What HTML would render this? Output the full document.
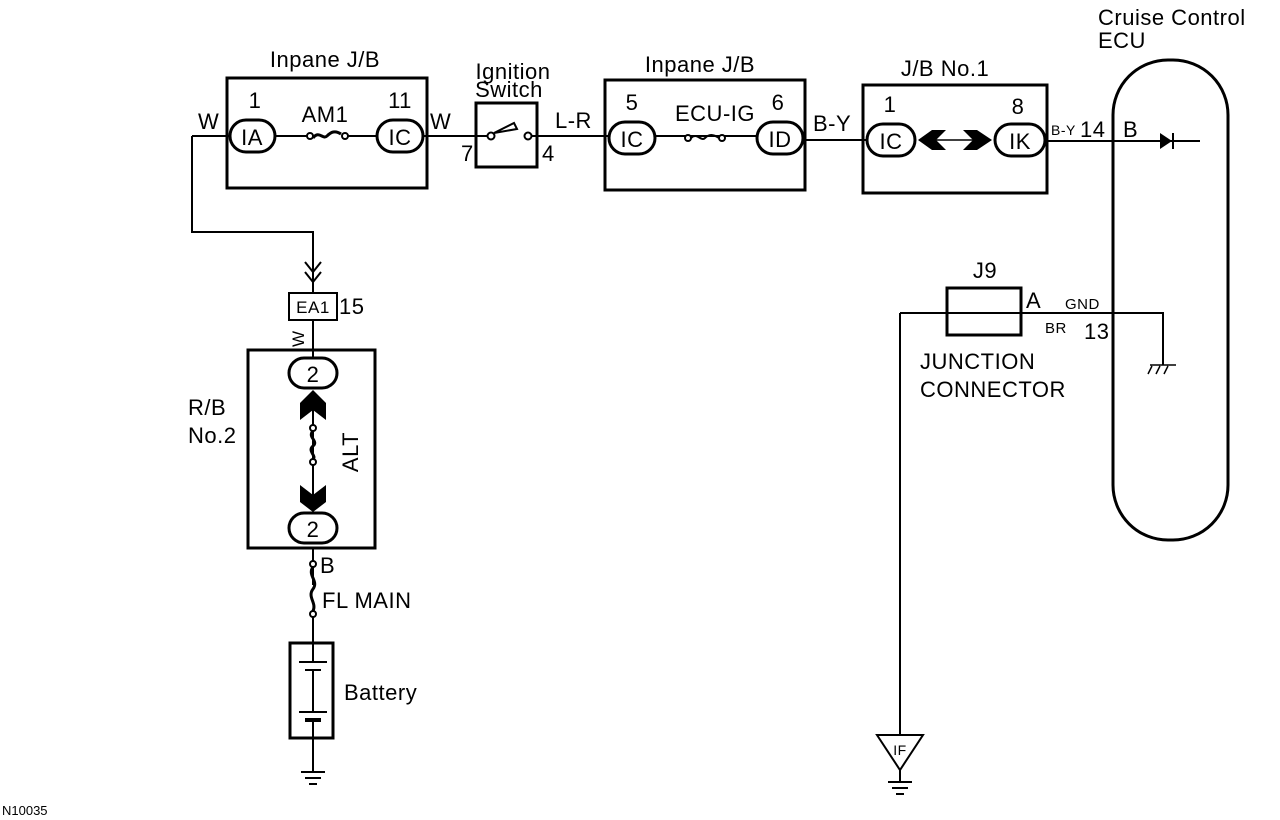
<!DOCTYPE html>
<html><head><style>body{margin:0;background:#fff}svg{display:block}text{font-family:"Liberation Sans",sans-serif;fill:#000}</style></head><body>
<svg width="1280" height="820" viewBox="0 0 1280 820" xmlns="http://www.w3.org/2000/svg" stroke="#000" fill="none" stroke-width="2">
<path d="M192 136H230 M275 136H310 M345 136H377 M423 136H491 M528 136H609 M655 136H757 M803 140H869 M1045 141H1200"/>
<path d="M192 136V232H313V293"/>
<path d="M305 262l8 10 8-10 M305 272l8 10 8-10"/>
<path d="M313 320V358 M313 548V585 M313 610V645 M313 738V772"/>
<path d="M900 313H1163V365 M900 313V735 M900 770V782"/>
<rect x="227" y="78" width="200" height="110" stroke-width="3"/>
<rect x="476" y="103" width="61" height="64" stroke-width="3"/>
<rect x="605" y="80" width="200" height="110" stroke-width="3"/>
<rect x="863" y="85" width="184" height="108" stroke-width="3"/>
<rect x="1113" y="60" width="115" height="480" rx="55" stroke-width="3"/>
<rect x="947" y="288" width="74" height="47" stroke-width="3"/>
<rect x="289" y="293" width="48" height="27" stroke-width="2"/>
<rect x="248" y="350" width="127" height="198" stroke-width="3"/>
<rect x="290" y="643" width="43" height="95" stroke-width="3"/>
<g stroke-width="3" fill="#fff">
<rect x="230" y="120" width="45" height="32" rx="16"/>
<rect x="377" y="120" width="46" height="32" rx="16"/>
<rect x="609" y="122" width="46" height="32" rx="16"/>
<rect x="757" y="122" width="46" height="32" rx="16"/>
<rect x="867" y="124" width="48" height="32" rx="16"/>
<rect x="995" y="124" width="50" height="32" rx="16"/>
<rect x="289" y="358" width="48" height="30" rx="15"/>
<rect x="289" y="513" width="48" height="30" rx="15"/>
</g>
<circle cx="310" cy="136" r="3" fill="#fff"/><circle cx="345" cy="136" r="3" fill="#fff"/>
<path d="M313 138c6-8 10 2 14-2s8-6 14-2" stroke-width="3"/>
<circle cx="688" cy="138" r="3" fill="#fff"/><circle cx="722" cy="138" r="3" fill="#fff"/>
<path d="M691 138c6-6 10 4 14 0s8-4 14 0" stroke-width="2"/>
<circle cx="491" cy="136" r="3.5" fill="#fff"/><circle cx="528" cy="136" r="3.5" fill="#fff"/>
<path d="M494 133l20-10 3 6z" stroke-width="2"/>
<path d="M918 140L932 130H946L936 140L946 150H932Z M963 130H977L992 140L977 150H963L973 140Z" fill="#000" stroke="none"/>
<path d="M936 140H973" stroke-width="1.5"/>
<path d="M1160 133V149L1172 141Z" fill="#000" stroke="none"/><path d="M1173 133V149"/>
<path d="M300 403L313 390L326 403V420L313 410L300 420Z M300 485L313 495L326 485V502L313 512L300 502Z" fill="#000" stroke="none"/>
<path d="M313 410V495"/><circle cx="313" cy="428" r="3" fill="#fff"/><circle cx="313" cy="462" r="3" fill="#fff"/>
<path d="M313 431c-6 6 6 10 0 15s4 10 0 13" stroke-width="3"/>
<circle cx="313" cy="564" r="3" fill="#fff"/><circle cx="313" cy="614" r="3" fill="#fff"/>
<path d="M313 567c-6 8 6 14 0 22s4 14 0 22" stroke-width="3"/>
<path d="M299 662H327 M305 670H321 M313 670V712 M299 712H327" stroke-width="2"/><path d="M305 720H321" stroke-width="4"/>
<path d="M313 662V645 M313 720V738"/>
<path d="M301 772H325 M305 778H321 M309 784H317"/>
<path d="M888 782H912 M892 788H908 M896 794H904"/>
<path d="M1150 365H1176 M1152 366l-4 8 M1160 366l-4 8 M1168 366l-4 8" stroke-width="1.5"/>
<path d="M877 735H923L900 770Z" stroke-width="2"/>
<g stroke="none" font-size="22" letter-spacing="0.5">
<text x="325" y="67" text-anchor="middle">Inpane J/B</text>
<text x="513" y="79" text-anchor="middle">Ignition</text>
<text x="509" y="97" text-anchor="middle">Switch</text>
<text x="700" y="72" text-anchor="middle">Inpane J/B</text>
<text x="945" y="76" text-anchor="middle">J/B No.1</text>
<text x="1098" y="25">Cruise Control</text>
<text x="1098" y="48">ECU</text>
<text x="198" y="129">W</text>
<text x="430" y="129">W</text>
<text x="555" y="128">L-R</text>
<text x="813" y="131">B-Y</text>
<text x="255" y="108" text-anchor="middle">1</text>
<text x="400" y="108" text-anchor="middle">11</text>
<text x="632" y="110" text-anchor="middle">5</text>
<text x="778" y="110" text-anchor="middle">6</text>
<text x="890" y="112" text-anchor="middle">1</text>
<text x="1018" y="114" text-anchor="middle">8</text>
<text x="325" y="122" text-anchor="middle">AM1</text>
<text x="715" y="121" text-anchor="middle">ECU-IG</text>
<text x="252" y="145" text-anchor="middle">IA</text>
<text x="400" y="145" text-anchor="middle">IC</text>
<text x="632" y="147" text-anchor="middle">IC</text>
<text x="780" y="147" text-anchor="middle">ID</text>
<text x="891" y="149" text-anchor="middle">IC</text>
<text x="1020" y="149" text-anchor="middle">IK</text>
<text x="461" y="161">7</text>
<text x="542" y="161">4</text>
<text x="1051" y="135" font-size="14">B-Y</text>
<text x="1080" y="137">14</text>
<text x="1123" y="137">B</text>
<text x="985" y="278" text-anchor="middle">J9</text>
<text x="1026" y="308">A</text>
<text x="1065" y="309" font-size="15">GND</text>
<text x="1045" y="333" font-size="15">BR</text>
<text x="1084" y="339">13</text>
<text x="920" y="369">JUNCTION</text>
<text x="920" y="397">CONNECTOR</text>
<text x="313" y="313" text-anchor="middle" font-size="17">EA1</text>
<text x="339" y="314">15</text>
<text x="313" y="382" text-anchor="middle">2</text>
<text x="313" y="537" text-anchor="middle">2</text>
<text x="188" y="415">R/B</text>
<text x="188" y="443">No.2</text>
<text transform="translate(358 452) rotate(-90)" text-anchor="middle">ALT</text>
<text transform="translate(304 347) rotate(-90)" font-size="17">W</text>
<text x="320" y="573">B</text>
<text x="322" y="608">FL MAIN</text>
<text x="344" y="700">Battery</text>
<text x="900" y="755" text-anchor="middle" font-size="14">IF</text>
<text x="2" y="815" font-size="13" letter-spacing="0">N10035</text>
</g>
</svg>
</body></html>
